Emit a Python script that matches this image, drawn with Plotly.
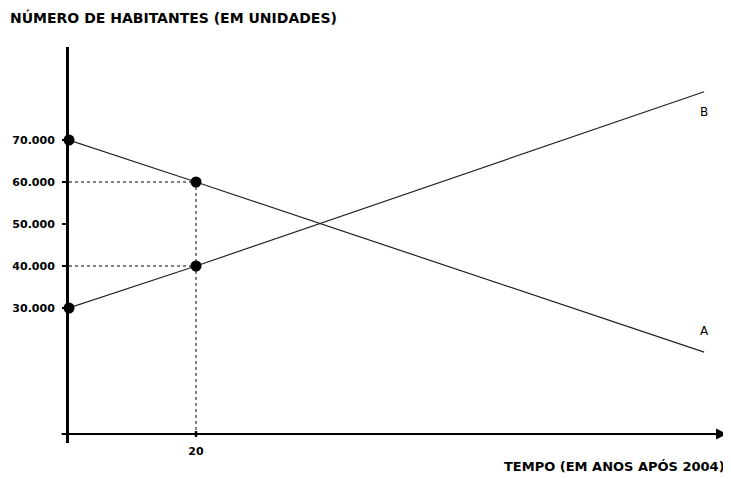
import plotly.graph_objects as go

# Data
years = [0, 20, 100]
pop_A = [70000, 60000, 19500]
pop_B = [30000, 40000, 81500]
point_x = [0, 20, 0, 20]
point_y = [70000, 60000, 30000, 40000]
ytick_vals = [30000, 40000, 50000, 60000, 70000]
ytick_text = ["30.000", "40.000", "50.000", "60.000", "70.000"]
xtick_vals = [20]
xtick_text = ["20"]
x_end = 103.6
y_label = "NÚMERO DE HABITANTES (EM UNIDADES)"
x_label = "TEMPO (EM ANOS APÓS 2004)"

FONT = "DejaVu Sans"
OFF = 8  # page body margin
W, H = 731 - OFF, 479 - OFF
L, T = 69 - OFF, 47 - OFF
R = W - (727 - OFF)
B = H - (443 - OFF)
PW, PH = W - L - R, H - T - B

fig = go.Figure()

# dotted guides
fig.add_trace(go.Scatter(x=[0, 20, 20], y=[60000, 60000, 0], mode="lines",
                         line=dict(color="black", width=1, dash="dot"),
                         hoverinfo="skip", showlegend=False, cliponaxis=False))
fig.add_trace(go.Scatter(x=[0, 20], y=[40000, 40000], mode="lines",
                         line=dict(color="black", width=1, dash="dot"),
                         hoverinfo="skip", showlegend=False, cliponaxis=False))

# lines A and B
fig.add_trace(go.Scatter(x=years, y=pop_A, mode="lines", name="A",
                         line=dict(color="#222", width=1.2), showlegend=False, cliponaxis=False))
fig.add_trace(go.Scatter(x=years, y=pop_B, mode="lines", name="B",
                         line=dict(color="#222", width=1.2), showlegend=False, cliponaxis=False))

# x axis with arrow
fig.add_annotation(x=x_end, y=0, ax=-1.4, ay=0, xref="x", yref="y", axref="x", ayref="y",
                   showarrow=True, arrowhead=2, arrowsize=1, arrowwidth=2.2, arrowcolor="black", text="")
# tick mark at 20
fig.add_shape(type="line", x0=20, x1=20, y0=-700, y1=700, xref="x", yref="y",
              line=dict(color="black", width=2.5))

# points
fig.add_trace(go.Scatter(x=point_x, y=point_y, mode="markers",
                         marker=dict(color="black", size=11),
                         showlegend=False, cliponaxis=False))

# labels A, B
fig.add_annotation(x=years[-1], y=pop_A[-1], text="A", showarrow=False, xref="x", yref="y",
                   yshift=21, xshift=0, font=dict(family=FONT, size=12, color="black"))
fig.add_annotation(x=years[-1], y=pop_B[-1], text="B", showarrow=False, xref="x", yref="y",
                   yshift=-20, xshift=0, font=dict(family=FONT, size=12, color="black"))

# axis titles
fig.add_annotation(x=(0 - L) / PW, y=1 + (T - (18 - OFF)) / PH, xref="paper", yref="paper",
                   xanchor="left", yanchor="middle", text=y_label, showarrow=False,
                   font=dict(family=FONT, size=14, color="black", weight="bold"))
fig.add_annotation(x=1.0, y=-((466 - OFF) - (H - B)) / PH, xref="paper", yref="paper",
                   xanchor="right", yanchor="middle", text=x_label, showarrow=False,
                   font=dict(family=FONT, size=13, color="black", weight="bold"))

fig.update_layout(
    width=W, height=H,
    margin=dict(l=L, r=R, t=T, b=B, autoexpand=False),
    paper_bgcolor="white", plot_bgcolor="white",
    font=dict(family=FONT, size=11, color="black"),
    xaxis=dict(range=[0, x_end], showgrid=False, zeroline=False, showline=False, automargin=False,
               tickvals=xtick_vals, ticktext=xtick_text, ticks="", ticklabelstandoff=0,
               tickfont=dict(family=FONT, size=11, color="black", weight="bold")),
    yaxis=dict(range=[-2143, 92143], showgrid=False, zeroline=False, showline=True, automargin=False,
               linecolor="black", linewidth=3, ticks="outside", ticklen=4, tickwidth=2,
               tickcolor="black", tickvals=ytick_vals, ticktext=ytick_text,
               ticklabelstandoff=5,
               tickfont=dict(family=FONT, size=11, color="black", weight="bold")),
)

fig.write_html("out.html")
